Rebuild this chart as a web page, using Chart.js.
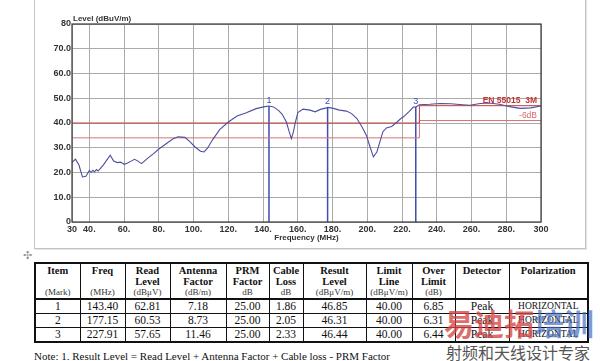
<!DOCTYPE html>
<html>
<head>
<meta charset="utf-8">
<script src="https://cdn.jsdelivr.net/npm/chart.js@4.4.0/dist/chart.umd.min.js"></script>
<style>
  body { margin: 0; width: 600px; height: 361px; overflow: hidden; background: #fff; position: relative; font-family: "Liberation Serif", "Times New Roman", serif; }
  #plotBox { position: absolute; left: 34px; top: -3px; width: 550px; height: 250px; border: 1px solid #c4c4c4; box-shadow: 1px 1px 0 #e4e4e4; }
  #levelChart { position: absolute; left: 0; top: 0; }
  #moveIcon { position: absolute; left: 23px; top: 249px; font: 11px "DejaVu Sans"; color: #999; }
  table { position: absolute; left: 34px; top: 262px; width: 553px; border-collapse: collapse; border: 2px solid #111; table-layout: fixed; }
  td, th { border-left: 1px solid #111; border-right: 1px solid #111; text-align: center; padding: 0; color: #111; overflow: hidden; white-space: nowrap; }
  th { font-size: 10.5px; line-height: 10.5px; font-weight: bold; vertical-align: top; padding-top: 2px; height: 19px; }
  tr.units td { font-size: 9px; line-height: 11px; height: 11px; border-bottom: 2px solid #111; color: #333; }
  tr.row td { font-size: 11.5px; line-height: 13px; height: 13px; border-bottom: 1px solid #111; }
  tr.row td.pol { font-size: 9.5px; }
  #note { position: absolute; left: 34px; top: 350px; font-size: 11px; color: #111; white-space: nowrap; }
  .wm { position: absolute; font-family: "Noto Sans CJK SC"; }
</style>
</head>
<body>
<div id="plotBox"></div>
<canvas id="levelChart" width="600" height="248"></canvas>
<div id="moveIcon">&#x2723;</div>
<table id="markTable"></table>
<div id="note">Note: 1. Result Level = Read Level + Antenna Factor + Cable loss - PRM Factor</div>
<div class="wm" style="left:444px; top:300px; font-size:30px; font-weight:bold;"><span style="color:rgba(214,70,70,0.78)">易迪拓</span><span style="color:rgba(70,110,190,0.7)">培训</span></div>
<div class="wm" style="left:446px; top:340px; font-size:16px; color:#555;">射频和天线设计专家</div>
<script>
// measured trace
const freqMHz = [30, 32, 34, 36, 38, 40, 41, 42, 43, 44, 45, 46, 47, 48, 50, 52, 54, 56, 58, 60,
    62, 64, 66, 68, 70, 72, 74, 77, 80, 84, 88, 91, 95, 98, 101, 104, 106, 108, 111, 115,
    120, 125, 130, 136, 141, 143.4, 146, 149, 151, 153.5, 155, 156.3, 157.5, 158.5, 160, 163, 167, 170, 173, 176.5,
    177.15, 180, 184, 188, 191, 194, 197, 199.5, 201.5, 203.5, 205.5, 207.5, 209, 211, 214, 217, 219, 221, 224, 226.5,
    227.91, 230, 236, 242, 248, 253, 259, 265, 270, 276, 282, 288, 294, 300];
const levelDb = [24.0, 25.4, 23.0, 18.2, 18.5, 20.8, 20.0, 20.9, 20.2, 21.2, 20.6, 21.4, 22.2, 23.0, 25.0, 27.0, 24.6, 24.0, 24.2, 23.3,
    23.8, 24.6, 25.3, 24.6, 23.6, 24.8, 26.0, 27.6, 29.5, 31.5, 33.5, 34.4, 34.2, 32.4, 30.2, 28.6, 28.3, 29.8, 33.3, 37.3,
    40.4, 42.8, 44.0, 45.8, 46.6, 46.85, 46.5, 45.0, 43.5, 40.3, 36.5, 33.7, 36.5, 40.0, 44.2, 45.6, 45.2, 44.5, 45.5, 46.1,
    46.31, 46.0, 45.2, 44.8, 43.8, 41.8, 38.4, 35.0, 30.5, 26.3, 28.3, 33.0, 36.5, 38.0, 38.6, 40.3, 41.6, 42.6, 44.6, 46.4,
    46.44, 47.4, 47.6, 47.9, 47.8, 47.5, 47.2, 47.9, 48.1, 47.6, 46.6, 45.9, 46.1, 46.9];

// EN 55015 3M limit and the -6dB line (step at 230 MHz)
const limitFreq = [30, 230, 230, 300];
const limitLine = [40, 40, 47, 47];
const marginLine = [34, 34, 41, 41];

const xTicks = [30, 40, 60, 80, 100, 120, 140, 160, 180, 200, 220, 240, 260, 280, 300];
const yTicks = [0, 10, 20, 30, 40, 50, 60, 70, 80];

// marker table
const markItem = ['1', '2', '3'];
const markFreq = [143.40, 177.15, 227.91];
const readLevel = [62.81, 60.53, 57.65];
const antFactor = [7.18, 8.73, 11.46];
const prmFactor = [25.00, 25.00, 25.00];
const cableLoss = [1.86, 2.05, 2.33];
const resultLevel = [46.85, 46.31, 46.44];
const limitAtMark = [40.00, 40.00, 40.00];
const overLimit = [6.85, 6.31, 6.44];
const detector = ['Peak', 'Peak', 'Peak'];
const polarization = ['HORIZONTAL', 'HORIZONTAL', 'HORIZONTAL'];

const headTitles = ['Item', 'Freq', 'Read<br>Level', 'Antenna<br>Factor', 'PRM<br>Factor', 'Cable<br>Loss', 'Result<br>Level', 'Limit<br>Line', 'Over<br>Limit', 'Detector', 'Polarization'];
const headUnits = ['(Mark)', '(MHz)', '(dB&mu;V)', '(dB/m)', 'dB', 'dB', '(dB&mu;V/m)', '(dB&mu;V/m)', '(dB)', '', ''];
const colWidths = [45, 45, 45, 56, 43, 34, 63, 46, 43, 54, 79];

document.addEventListener("DOMContentLoaded", function () {
    const ctx = document.getElementById('levelChart').getContext('2d');
    const tickFont = { family: 'Liberation Sans', size: 9, weight: 'bold' };

    // build table
    const table = document.getElementById('markTable');
    let html = '<colgroup>' + colWidths.map(w => `<col style="width:${w}px">`).join('') + '</colgroup>';
    html += '<tr>' + headTitles.map(t => `<th>${t}</th>`).join('') + '</tr>';
    html += '<tr class="units">' + headUnits.map(u => `<td>${u}</td>`).join('') + '</tr>';
    for (let i = 0; i < markItem.length; i++) {
        html += '<tr class="row">' +
            `<td>${markItem[i]}</td><td>${markFreq[i].toFixed(2)}</td><td>${readLevel[i].toFixed(2)}</td>` +
            `<td>${antFactor[i].toFixed(2)}</td><td>${prmFactor[i].toFixed(2)}</td><td>${cableLoss[i].toFixed(2)}</td>` +
            `<td>${resultLevel[i].toFixed(2)}</td><td>${limitAtMark[i].toFixed(2)}</td><td>${overLimit[i].toFixed(2)}</td>` +
            `<td>${detector[i]}</td><td class="pol">${polarization[i]}</td></tr>`;
    }
    table.innerHTML = html;

    const markerSets = markFreq.map((f, i) => ({
        data: [{ x: f, y: 0 }, { x: f, y: resultLevel[i] }],
        borderColor: '#3d4db2',
        borderWidth: 1.5,
        pointRadius: 0
    }));

    // frame, titles, marker numbers and limit labels
    const chartText = {
        id: 'chartText',
        afterDatasetsDraw(chart) {
            const { ctx, chartArea, scales } = chart;
            const xs = scales.x, ys = scales.y;
            ctx.save();
            ctx.strokeStyle = '#3a3a3a';
            ctx.lineWidth = 1.2;
            ctx.strokeRect(chartArea.left, chartArea.top, chartArea.right - chartArea.left, chartArea.bottom - chartArea.top);

            ctx.fillStyle = '#333';
            ctx.font = 'bold 8px "Liberation Sans"';
            ctx.textAlign = 'left';
            ctx.textBaseline = 'middle';
            ctx.fillText('Level (dBuV/m)', chartArea.left + 1, chartArea.top - 5);

            ctx.fillStyle = '#3d4db2';
            ctx.font = '9px "Liberation Sans"';
            ctx.textAlign = 'center';
            ctx.textBaseline = 'bottom';
            markFreq.forEach((f, i) => {
                ctx.fillText(markItem[i], xs.getPixelForValue(f), ys.getPixelForValue(resultLevel[i]) - 1);
            });

            ctx.textAlign = 'right';
            ctx.fillStyle = '#c43434';
            ctx.font = 'bold 8.5px "Liberation Sans"';
            ctx.fillText('EN 55015  3M', chartArea.right - 4, ys.getPixelForValue(limitLine[3]) - 1);
            ctx.fillStyle = '#d46a6a';
            ctx.font = '8.5px "Liberation Sans"';
            ctx.fillText('-6dB', chartArea.right - 4, ys.getPixelForValue(marginLine[3]) - 1);
            ctx.restore();
        }
    };

    new Chart(ctx, {
        type: 'line',
        data: {
            datasets: [
                {
                    data: freqMHz.map((f, i) => ({ x: f, y: levelDb[i] })),
                    borderColor: '#4e4e9e',
                    borderWidth: 1.1,
                    pointRadius: 0,
                    tension: 0
                },
                {
                    data: limitFreq.map((f, i) => ({ x: f, y: limitLine[i] })),
                    borderColor: '#c43c3c',
                    borderWidth: 1,
                    pointRadius: 0
                },
                {
                    data: limitFreq.map((f, i) => ({ x: f, y: marginLine[i] })),
                    borderColor: '#d87474',
                    borderWidth: 1,
                    pointRadius: 0
                },
                ...markerSets
            ]
        },
        options: {
            responsive: false,
            animation: false,
            layout: { padding: { left: 0, top: 24, right: 59, bottom: 0 } },
            plugins: { legend: { display: false }, tooltip: { enabled: false } },
            scales: {
                x: {
                    type: 'linear',
                    min: 30,
                    max: 300,
                    afterBuildTicks: scale => { scale.ticks = xTicks.map(v => ({ value: v })); },
                    afterFit: scale => { scale.height = 26; },
                    grid: { color: '#ababab', drawTicks: false },
                    border: { display: false },
                    ticks: {
                        autoSkip: false,
                        maxRotation: 0,
                        padding: 2,
                        color: '#333',
                        font: tickFont,
                        callback: v => (v === 30 || v === 300) ? String(v) : v + '.'
                    },
                    title: {
                        display: true,
                        text: 'Frequency (MHz)',
                        color: '#333',
                        font: { family: 'Liberation Sans', size: 8, weight: 'bold' },
                        padding: { top: 0, bottom: 5 }
                    }
                },
                y: {
                    min: 0,
                    max: 80,
                    afterBuildTicks: scale => { scale.ticks = yTicks.map(v => ({ value: v })); },
                    afterFit: scale => { scale.width = 72; },
                    grid: { color: '#ababab', drawTicks: false },
                    border: { display: false },
                    ticks: {
                        padding: 1,
                        color: '#333',
                        font: tickFont,
                        callback: v => (v === 0 || v === 80) ? String(v) : v.toFixed(1)
                    }
                }
            }
        },
        plugins: [chartText]
    });
});
</script>
</body>
</html>
